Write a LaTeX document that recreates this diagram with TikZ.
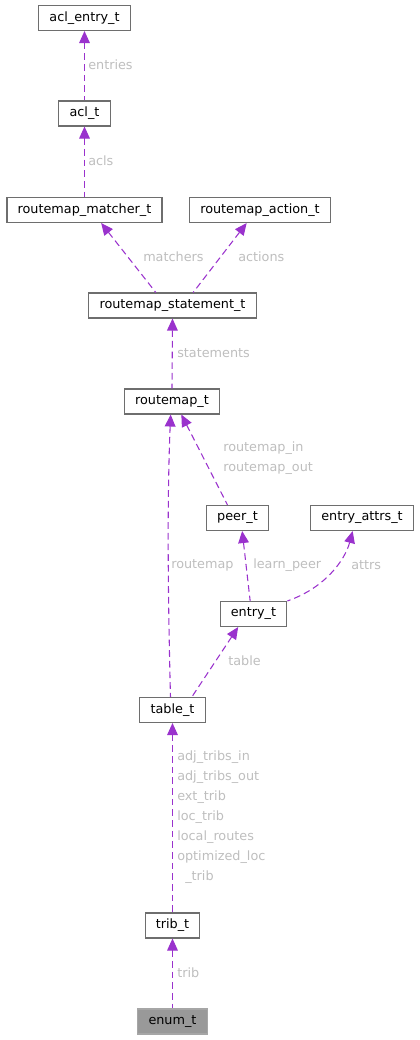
\documentclass[tikz,border=0pt]{standalone}
\usepackage{fontspec}
\setmainfont{DejaVu Sans}
\usetikzlibrary{arrows.meta}

\definecolor{edgepurple}{HTML}{9A32CD}
\definecolor{labelgrey}{HTML}{BEBEBE}
\definecolor{boxgrey}{HTML}{6E6E6E}

\tikzset{
  cls/.style={draw=boxgrey, fill=white, line width=0.8pt, minimum height=18.75pt,
    inner xsep=8pt, inner ysep=0pt, font=\fontsize{9.6}{12}\selectfont},
  member/.style={draw=edgepurple, line width=0.8pt, dash pattern=on 5pt off 3pt,
    {Triangle[length=9pt,width=8pt,fill=edgepurple]}-},
  lbl/.style={anchor=west, inner sep=0pt, text=labelgrey, align=left,
    font=\fontsize{9.6}{15}\selectfont}
}

\begin{document}
\begin{tikzpicture}[x=0.75pt,y=-0.75pt]
\useasboundingbox (0,0) rectangle (420,1040);

% classes
\node[cls] (aclentry) at (84.5,18) {acl\_entry\_t};
\node[cls] (acl) at (84.5,113.5) {acl\_t};
\node[cls] (matcher) at (84.5,210) {routemap\_matcher\_t};
\node[cls] (action) at (260,210) {routemap\_action\_t};
\node[cls] (statement) at (172.5,305.5) {routemap\_statement\_t};
\node[cls] (routemap) at (172,401.5) {routemap\_t};
\node[cls] (peer) at (237.5,518) {peer\_t};
\node[cls] (attrs) at (362,518) {entry\_attrs\_t};
\node[cls] (entry) at (253.5,614) {entry\_t};
\node[cls] (table) at (172.5,710) {table\_t};
\node[cls] (trib) at (172.5,925.5) {trib\_t};
\node[cls, fill=gray!80, draw=black!35] (enum) at (172.5,1021.5) {enum\_t};

% members
\draw[member] (aclentry.south) -- (acl.north);
\draw[member] (acl.south) -- (matcher.north);
\draw[member] ([xshift=12.5]matcher.south) -- ([xshift=-12.5]statement.north);
\draw[member] ([xshift=-10]action.south) -- ([xshift=15.5]statement.north);
\draw[member] (statement.south) -- (routemap.north);
\draw[member] ([xshift=7]routemap.south) -- ([xshift=-7.5]peer.north);
\draw[member] ([xshift=-1]routemap.south) .. controls (167,500) and (168,600) .. ([xshift=-1.5]table.north);
\draw[member] ([xshift=3.5]peer.south) -- ([xshift=-2.5]entry.north);
\draw[member] ([xshift=-7]attrs.south) .. controls (345,560) and (325,588) .. (entry.north east);
\draw[member] ([xshift=-11.5]entry.south) -- ([xshift=14.5]table.north);
\draw[member] (table.south) -- (trib.north);
\draw[member] (trib.south) -- (enum.north);

% labels
\node[lbl] (lentries) at (88,65) {entries};
\node[lbl] (lacls) at (88,161) {acls};
\node[lbl] (lmatchers) at (143,257) {matchers};
\node[lbl] (lactions) at (238,257) {actions};
\node[lbl] (lstatements) at (177,353) {statements};
\node[lbl] (lrouteinout) at (223,458.5) {routemap\_in\\routemap\_out};
\node[lbl] (lroutemap) at (171,565) {routemap};
\node[lbl] (llearn) at (253,565) {learn\_peer};
\node[lbl] (lattrs) at (351,565) {attrs};
\node[lbl] (ltable) at (228,661) {table};
\node[lbl] (ltribs) at (177,817) {adj\_tribs\_in\\adj\_tribs\_out\\ext\_trib\\loc\_trib\\local\_routes\\optimized\_loc\\\hspace{6pt}\_trib};
\node[lbl] (ltrib) at (177,973) {trib};
\end{tikzpicture}
\end{document}
